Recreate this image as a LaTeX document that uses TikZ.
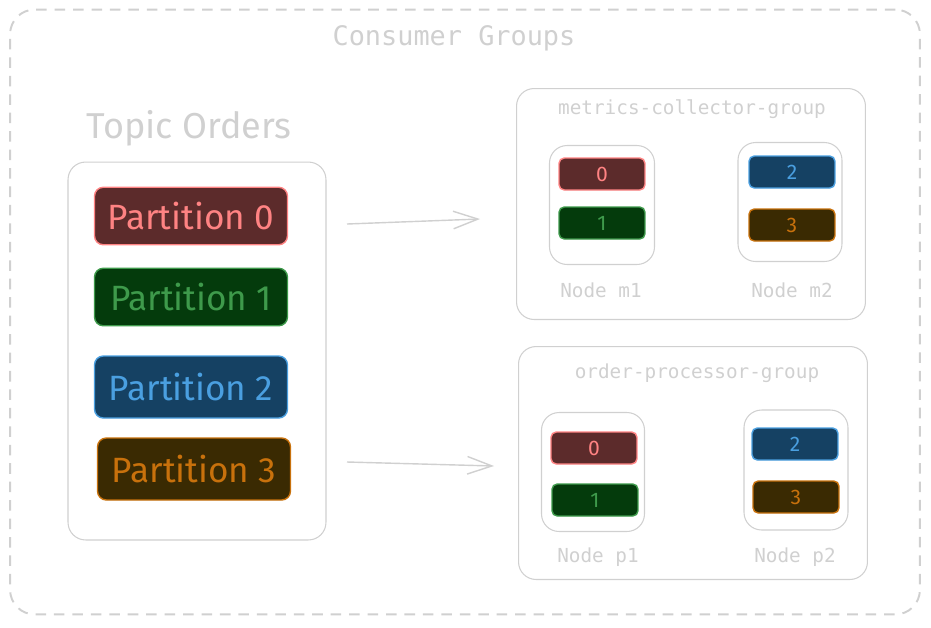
\documentclass[tikz,border=0pt]{standalone}
\usepackage{fontspec}
\setmainfont{Fira Sans}
\newfontfamily\monofont{DejaVu Sans Mono}
\usepackage{tikz}
\usetikzlibrary{arrows.meta}

\definecolor{faint}{HTML}{D0D0D0}
\definecolor{redfill}{HTML}{5C2B2B}
\definecolor{redline}{HTML}{FF8383}
\definecolor{greenfill}{HTML}{043B0C}
\definecolor{greenline}{HTML}{3E9A4B}
\definecolor{bluefill}{HTML}{154163}
\definecolor{blueline}{HTML}{4A9FE0}
\definecolor{brownfill}{HTML}{3A2A02}
\definecolor{brownline}{HTML}{C8710C}

\tikzset{
  frame/.style={draw=faint, line width=0.6pt, rounded corners=10pt},
  part/.style={rounded corners=5pt, line width=0.8pt, minimum width=3.86cm, minimum height=1.15cm, font=\fontsize{20}{24}\selectfont},
  slot/.style={rounded corners=3pt, line width=0.8pt, minimum width=1.72cm, minimum height=0.64cm, font=\fontsize{12}{14}\selectfont},
  p0/.style={fill=redfill, draw=redline, text=redline},
  p1/.style={fill=greenfill, draw=greenline, text=greenline},
  p2/.style={fill=bluefill, draw=blueline, text=blueline},
  p3/.style={fill=brownfill, draw=brownline, text=brownline},
  caption/.style={text=faint, font=\monofont\fontsize{11}{13}\selectfont},
  feed/.style={-{Straight Barb[length=14pt, width=10pt]}, draw=faint, line width=0.8pt},
}

\begin{document}
\begin{tikzpicture}[x=0.02cm, y=-0.02cm]
        \useasboundingbox (0,0) rectangle (931,627);
        % dashed frame round everything
        \node[frame, line width=1.1pt, dash pattern=on 6pt off 4.5pt, rounded corners=14pt, minimum width=18.2cm, minimum height=12.1cm] (consumers) at (465,312) {};
        \node[text=faint, font=\monofont\fontsize{15.3}{18}\selectfont] (title) at (454,38) {Consumer Groups};
        % topic with its partitions
        \node[text=faint, font=\fontsize{20.5}{24}\selectfont] (topiclabel) at (189,128) {Topic Orders};
        \node[frame, minimum width=5.16cm, minimum height=7.56cm] (topic) at (197,351) {};
        \node[part, p0] (part0) at (191,216) {Partition 0};
        \node[part, p1] (part1) at (191,297) {Partition 1};
        \node[part, p2, minimum height=1.24cm] (part2) at (191,387) {Partition 2};
        \node[part, p3, minimum height=1.24cm] (part3) at (194,469) {Partition 3};
        % first group
        \node[frame, minimum width=6.98cm, minimum height=4.62cm] (metrics) at (691,204) {};
        \node[caption] (metricslabel) at (692,109) {metrics-collector-group};
        \node[frame, minimum width=2.1cm, minimum height=2.38cm] (m1) at (602,205) {};
        \node[caption] (m1label) at (601,290) {Node m1};
        \node[slot, p0] (m1a) at (602,174) {0};
        \node[slot, p1] (m1b) at (602,223) {1};
        \node[frame, minimum width=2.08cm, minimum height=2.38cm] (m2) at (790,202) {};
        \node[caption] (m2label) at (792,290) {Node m2};
        \node[slot, p2] (m2a) at (792,172) {2};
        \node[slot, p3] (m2b) at (792,225) {3};
        % second group
        \node[frame, minimum width=6.98cm, minimum height=4.66cm] (orders) at (693,463) {};
        \node[caption] (orderslabel) at (697,373) {order-processor-group};
        \node[frame, minimum width=2.06cm, minimum height=2.38cm] (p1) at (593,472) {};
        \node[caption] (p1label) at (598,557) {Node p1};
        \node[slot, p0] (p1a) at (594,448) {0};
        \node[slot, p1] (p1b) at (595,500) {1};
        \node[frame, minimum width=2.08cm, minimum height=2.4cm] (p2) at (796,470) {};
        \node[caption] (p2label) at (795,557) {Node p2};
        \node[slot, p2] (p2a) at (795,444) {2};
        \node[slot, p3] (p2b) at (796,497) {3};
        % arrows to the groups
        \coordinate (up0) at (347,224);
        \coordinate (up1) at (480,219);
        \coordinate (lo0) at (347,462);
        \coordinate (lo1) at (494,466);
        \draw[feed] (up0) -- (up1);
        \draw[feed] (lo0) -- (lo1);
\end{tikzpicture}
\end{document}
